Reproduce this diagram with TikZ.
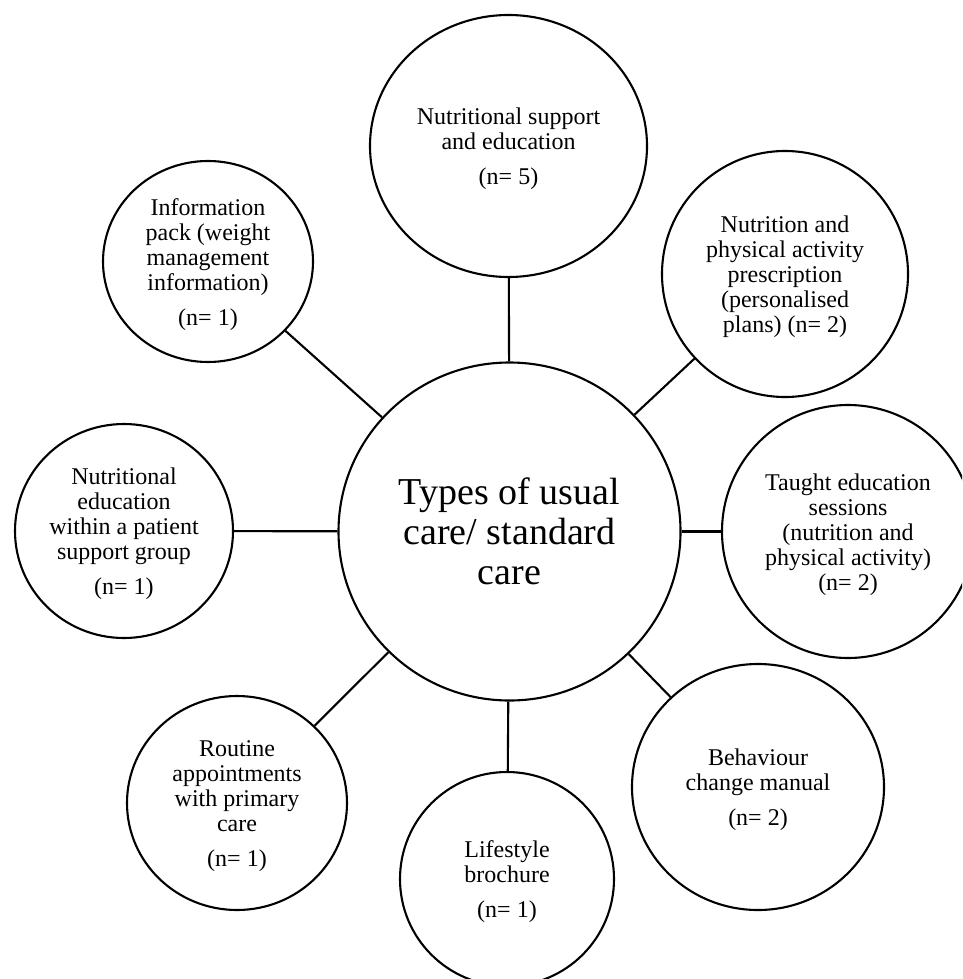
\documentclass[tikz,border=0pt]{standalone}
\usepackage{fontspec}
\setmainfont{Liberation Serif}
\usetikzlibrary{shapes.geometric}
\newcommand{\tp}{\rule{0pt}{22.5pt}}
\tikzset{
  bubble/.style={draw=black, line width=2.1pt, ellipse, inner sep=0pt, align=center,
    font=\fontsize{24}{25}\selectfont},
  hub/.style={draw=black, line width=2.1pt, ellipse, inner sep=0pt, align=center,
    font=\fontsize{38}{40}\selectfont},
  conn/.style={draw=black, line width=2.1pt}
}
\begin{document}
\begin{tikzpicture}[x=1pt, y=-1pt]
\clip (0,0) rectangle (962,979);
\fill[white] (0,0) rectangle (962,979);
\node[hub, minimum width=342pt, minimum height=338pt] (main) at (509.5,531.5)
  {Types of usual\\care/ standard\\care};
\node[bubble, minimum width=277pt, minimum height=262pt] (top) at (508.5,146)
  {\tp Nutritional support\\and education\\[10pt](n= 5)};
\node[bubble, minimum width=210pt, minimum height=201pt] (info) at (208,261.5)
  {\tp Information\\pack (weight\\management\\information)\\[10pt](n= 1)};
\node[bubble, minimum width=246pt, minimum height=246pt] (npa) at (785,274)
  {\tp Nutrition and\\physical activity\\prescription\\(personalised\\plans) (n= 2)};
\node[bubble, minimum width=218pt, minimum height=214pt] (group) at (124,531)
  {\tp Nutritional\\education\\within a patient\\support group\\[10pt](n= 1)};
\node[bubble, minimum width=252pt, minimum height=253pt] (taught) at (848,531.5)
  {\tp Taught education\\sessions\\(nutrition and\\physical activity)\\(n= 2)};
\node[bubble, minimum width=220pt, minimum height=214pt] (routine) at (237,803)
  {\tp Routine\\appointments\\with primary\\care\\[10pt](n= 1)};
\node[bubble, minimum width=214pt, minimum height=214pt] (life) at (507,879)
  {\tp Lifestyle\\brochure\\[10pt](n= 1)};
\node[bubble, minimum width=252pt, minimum height=246pt] (behav) at (758,787)
  {\tp Behaviour\\change manual\\[10pt](n= 2)};
\draw[conn] (main) -- (top);
\draw[conn] (main) -- (info);
\draw[conn] (main) -- (npa);
\draw[conn] (main) -- (group);
\draw[conn] (main) -- (taught);
\draw[conn] (main) -- (routine);
\draw[conn] (main) -- (life);
\draw[conn] (main) -- (behav);
\end{tikzpicture}
\end{document}
